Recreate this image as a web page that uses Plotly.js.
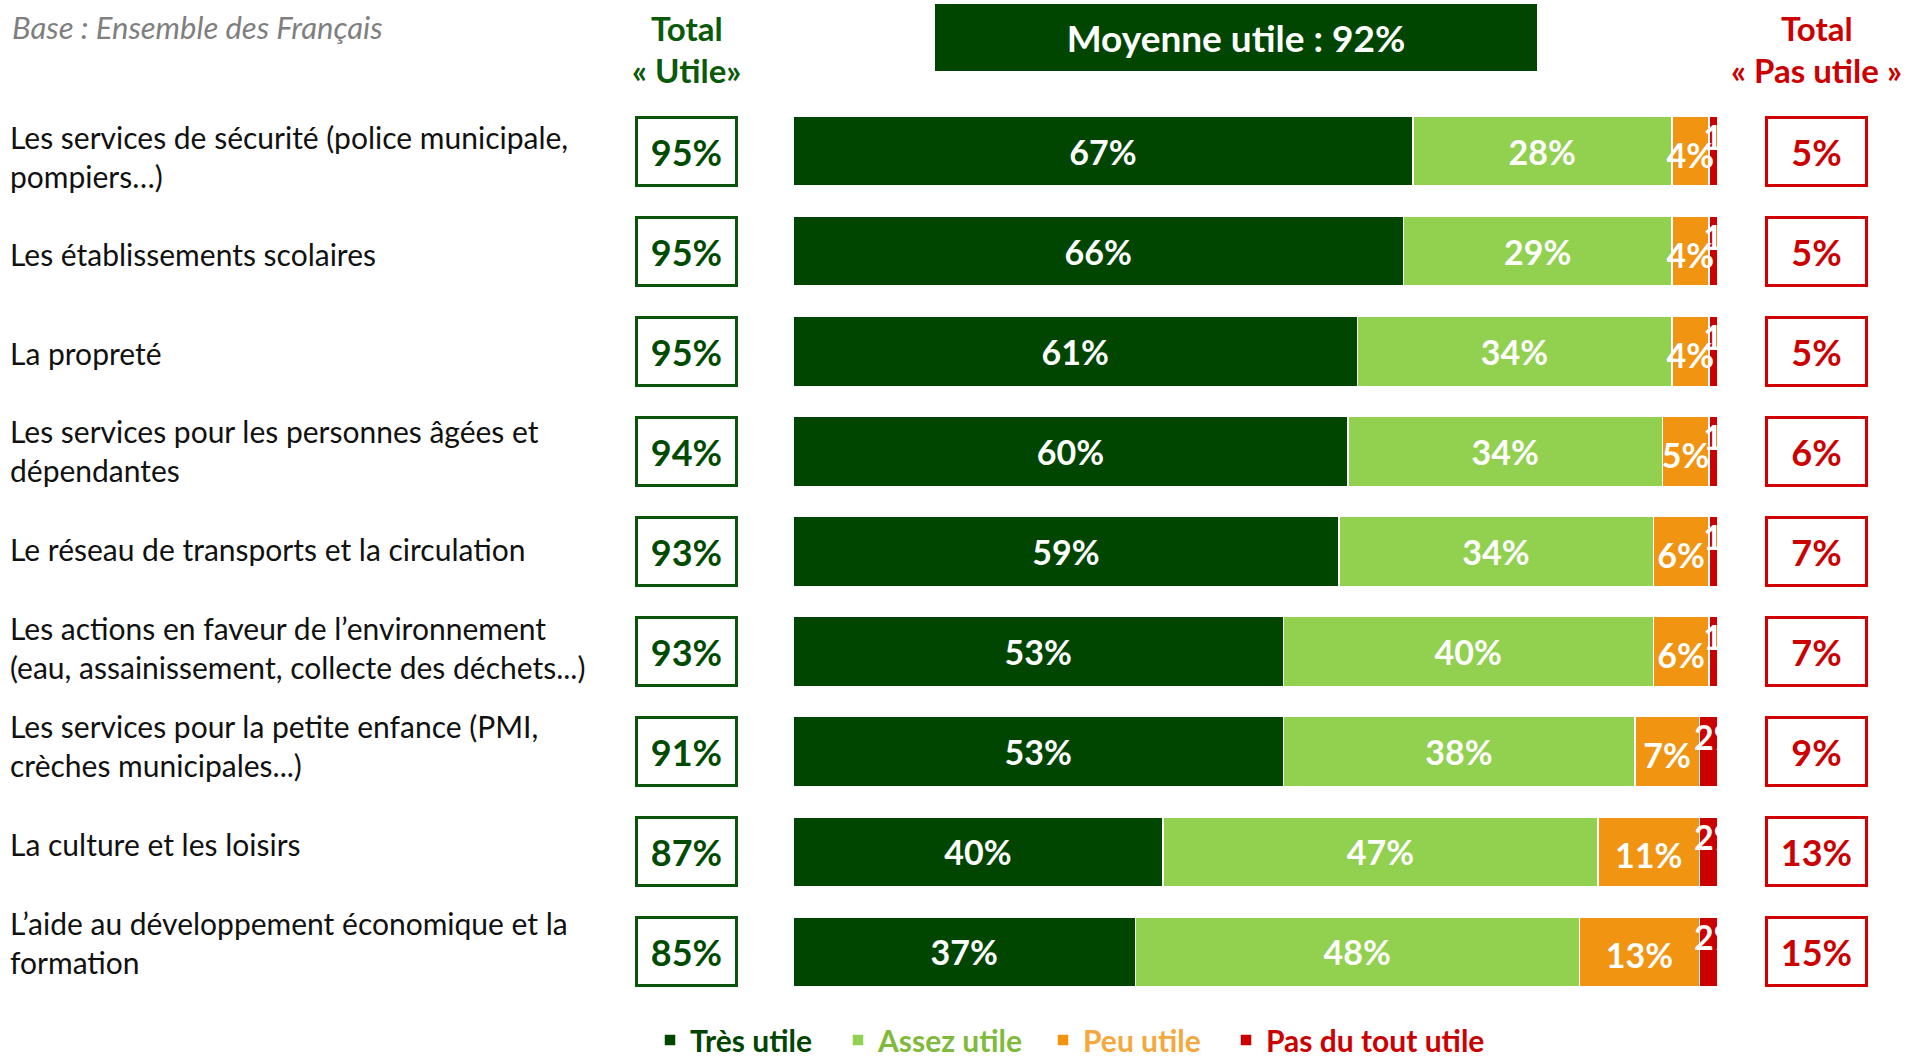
<!DOCTYPE html>
<html><head><meta charset="utf-8">
<script src="https://cdn.plot.ly/plotly-3.0.1.min.js"></script>
<style>html,body{margin:0;padding:0;background:#fff;}#chart{width:1915px;height:1058px;}</style>
</head><body><div id="chart"></div>
<script>
const categories = [
  "Les services de sécurité (police municipale,<br>pompiers…)",
  "Les établissements scolaires",
  "La propreté",
  "Les services pour les personnes âgées et<br>dépendantes",
  "Le réseau de transports et la circulation",
  "Les actions en faveur de l’environnement<br>(eau, assainissement, collecte des déchets...)",
  "Les services pour la petite enfance (PMI,<br>crèches municipales...)",
  "La culture et les loisirs",
  "L’aide au développement économique et la<br>formation"
];
const tresUtile   = [67, 66, 61, 60, 59, 53, 53, 40, 37];
const assezUtile  = [28, 29, 34, 34, 34, 40, 38, 47, 48];
const peuUtile    = [4, 4, 4, 5, 6, 6, 7, 11, 13];
const pasDuTout   = [1, 1, 1, 1, 1, 1, 2, 2, 2];
const totalUtile    = [95, 95, 95, 94, 93, 93, 91, 87, 85];
const totalPasUtile = [5, 5, 5, 6, 7, 7, 9, 13, 15];
const seriesNames = ["Très utile", "Assez utile", "Peu utile", "Pas du tout utile"];

const C = {dark:'#004600', light:'#92d050', orange:'#f09412', red:'#cc0000',
           lightTxt:'#7fba3c', orangeTxt:'#f5a83e', boxGreen:'#0b540b', boxRed:'#d00000'};
const FONT = 'Lato, "Open Sans", sans-serif';

const idx = categories.map((_, i) => i);
const L = 793, R = 1718, T = 101, H = 901;
const px = v => (v - L) / (R - L);
const py = v => 1 - (v - T) / H;

const barBase = {type:'bar', orientation:'h', y: idx, hoverinfo:'skip',
  textangle:0, constraintext:'none',
  textposition:'inside', insidetextanchor:'middle',
  textfont:{family:FONT, size:34, color:'#ffffff', weight:700}};

const traces = [
  Object.assign({}, barBase, {x: tresUtile, legend:'legend', name:'<span style="color:'+C.dark+'">'+seriesNames[0]+'</span>',
    marker:{color:C.dark, line:{color:'#fff', width:1.5}}, text: tresUtile.map(v => v + '%')}),
  Object.assign({}, barBase, {x: assezUtile, legend:'legend2', name:'<span style="color:'+C.lightTxt+'">'+seriesNames[1]+'</span>',
    marker:{color:C.light, line:{color:'#fff', width:1.5}}, text: assezUtile.map(v => v + '%')}),
  Object.assign({}, barBase, {x: peuUtile, legend:'legend3', name:'<span style="color:'+C.orangeTxt+'">'+seriesNames[2]+'</span>',
    marker:{color:C.orange, line:{color:'#fff', width:1.5}}, text: peuUtile.map(() => ''), textposition:'none'}),
  Object.assign({}, barBase, {x: pasDuTout, legend:'legend4', name:'<span style="color:'+C.red+'">'+seriesNames[3]+'</span>',
    marker:{color:C.red, line:{color:'#fff', width:1.5}}, text: pasDuTout.map(() => ''), textposition:'none'}),
  {type:'scatter', mode:'text', showlegend:false, hoverinfo:'skip',
    x: idx.map(i => tresUtile[i] + assezUtile[i] + peuUtile[i] / 2),
    y: idx.map(i => i + 0.08), text: peuUtile.map(v => v + '%'), textposition:'middle center',
    textfont:{family:FONT, size:34, color:'#ffffff', weight:700}},
  {type:'scatter', mode:'text', showlegend:false, hoverinfo:'skip',
    x: idx.map(i => tresUtile[i] + assezUtile[i] + peuUtile[i] - 0.6),
    y: idx.map(i => i - 0.1), text: pasDuTout.map(v => v + '%'), textposition:'middle right',
    textfont:{family:FONT, size:34, color:'#ffffff', weight:700}}
];

const ann = [];
categories.forEach((c, i) => {
  ann.push({text:c, xref:'paper', yref:'paper', x:px(8), y:py(156 + i * 98.3), xanchor:'left', yanchor:'middle',
    align:'left', showarrow:false, font:{family:FONT, size:30, color:'#111111'}});
  ann.push({text: totalUtile[i] + '%', xref:'paper', yref:'y', x:px(686.5), y:i, xanchor:'center', yanchor:'middle',
    showarrow:false, width:97, height:65, borderpad:0, borderwidth:3, bordercolor:C.boxGreen, bgcolor:'#ffffff',
    font:{family:FONT, size:36, color:'#004b00', weight:700}});
  ann.push({text: totalPasUtile[i] + '%', xref:'paper', yref:'y', x:px(1816.5), y:i, xanchor:'center', yanchor:'middle',
    showarrow:false, width:97, height:65, borderpad:0, borderwidth:3, bordercolor:C.boxRed, bgcolor:'#ffffff',
    font:{family:FONT, size:36, color:'#cc0000', weight:700}});
});
const moyenne = Math.round(totalUtile.reduce((a, b) => a + b, 0) / totalUtile.length);
ann.push({text:'Moyenne utile : ' + moyenne + '%', xref:'paper', yref:'paper', x:px(1236), y:py(37.5),
  xanchor:'center', yanchor:'middle', showarrow:false, width:602, height:67, borderpad:0, borderwidth:0,
  bgcolor:'#004600', font:{family:FONT, size:37, color:'#ffffff', weight:700}});
ann.push({text:'Base : Ensemble des Français', xref:'paper', yref:'paper', x:px(10), y:py(27), xanchor:'left',
  yanchor:'middle', showarrow:false, font:{family:FONT, size:31, color:'#7f7f7f', style:'italic'}});
[['Total', 28], ['« Utile»', 70]].forEach(([t, y]) => ann.push({text:t, xref:'paper', yref:'paper', x:px(686.5), y:py(y),
  xanchor:'center', yanchor:'middle', showarrow:false, font:{family:FONT, size:33, color:'#0a5a0a', weight:700}}));
[['Total', 28], ['« Pas utile »', 70]].forEach(([t, y]) => ann.push({text:t, xref:'paper', yref:'paper', x:px(1816.5), y:py(y),
  xanchor:'center', yanchor:'middle', showarrow:false, font:{family:FONT, size:33, color:'#cc0000', weight:700}}));

const legBase = {orientation:'h', xanchor:'left', y:py(1040), yanchor:'middle',
  font:{family:FONT, size:30, weight:700}, bgcolor:'rgba(0,0,0,0)', itemclick:false};
const layout = {
  width:1915, height:1058, barmode:'stack', bargap:0.3,
  margin:{l:L, r:1915 - R, t:T, b:1058 - T - H, pad:0, autoexpand:false},
  paper_bgcolor:'#ffffff', plot_bgcolor:'#ffffff',
  xaxis:{range:[0, 100], visible:false, fixedrange:true},
  yaxis:{range:[8.5, -0.5], visible:false, fixedrange:true},
  showlegend:true,
  legend:  Object.assign({}, legBase, {x:px(650)}),
  legend2: Object.assign({}, legBase, {x:px(838)}),
  legend3: Object.assign({}, legBase, {x:px(1043)}),
  legend4: Object.assign({}, legBase, {x:px(1226)}),
  annotations: ann,
  hovermode:false
};
Plotly.newPlot('chart', traces, layout, {displayModeBar:false, staticPlot:true});
</script></body></html>
